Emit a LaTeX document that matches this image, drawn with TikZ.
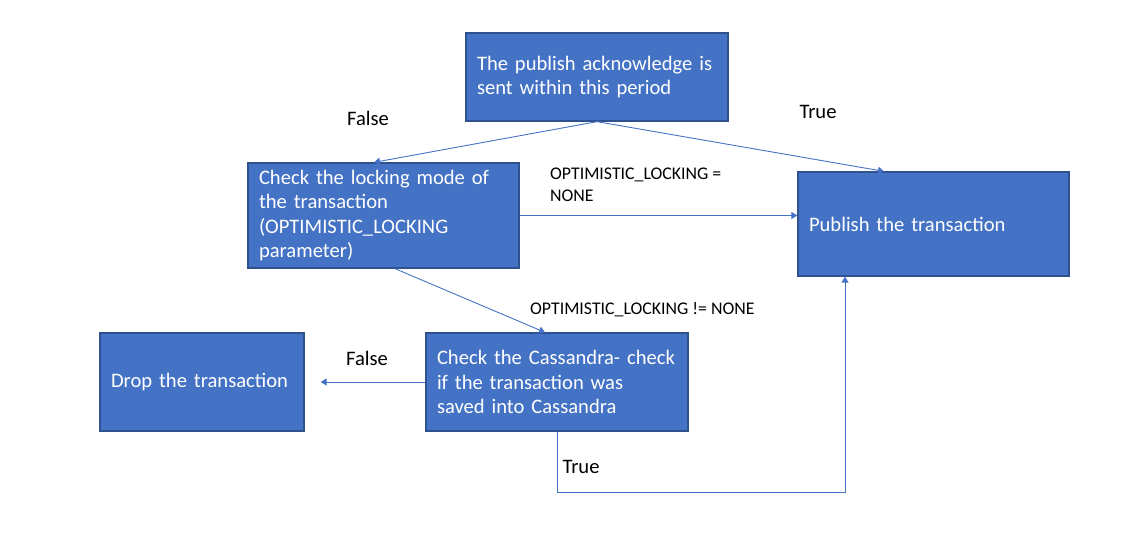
\documentclass[tikz,border=0pt]{standalone}
\usepackage{fontspec}
\setmainfont{Carlito}
\usetikzlibrary{positioning,calc,arrows.meta}

\definecolor{boxblue}{HTML}{4472C4}
\definecolor{boxedge}{HTML}{2F528F}

\begin{document}
\begin{tikzpicture}[x=1pt,y=-1pt]

	\tikzset{stepbox/.style={draw=boxedge,line width=1.3pt,fill=boxblue,text=white,
			align=left,inner xsep=11pt,inner ysep=0pt,
			font=\fontsize{20.6}{24.6}\selectfont}}
	\tikzset{flow/.style={draw=boxblue,line width=0.9pt,-{Triangle[width=7pt,length=6pt]}}}
	\tikzset{branchlabel/.style={font=\fontsize{20.6}{24}\selectfont,inner sep=0pt}}
	\tikzset{condlabel/.style={font=\fontsize{17.8}{22}\selectfont,inner sep=0pt,align=left,anchor=west}}

	\useasboundingbox (0,0) rectangle (1134,544);

	% boxes
	\node[stepbox,text width=240pt,minimum height=88pt] (ackbox) at (597,77)
	{The publish acknowledge is\\sent within this period};
	\node[stepbox,text width=249pt,minimum height=105pt] (lockbox) at (383.5,215.5)
	{Check the locking mode of\\the transaction\\(OPTIMISTIC\_LOCKING\\parameter)};
	\node[stepbox,text width=249pt,minimum height=104pt] (publishbox) at (933.5,224)
	{Publish the transaction};
	\node[stepbox,text width=240pt,minimum height=98pt] (cassbox) at (557,382)
	{Check the Cassandra- check\\if the transaction was\\saved into Cassandra};
	\node[stepbox,text width=182pt,minimum height=98pt] (dropbox) at (202,382)
	{Drop the transaction};

	% end points
	\coordinate (lockin) at ($(lockbox.north)+(-9.5,0)$);
	\coordinate (pubtop) at ($(publishbox.north)+(-49.5,0)$);
	\coordinate (lockout) at ($(lockbox.south)+(11.5,0)$);
	\coordinate (cassin) at ($(cassbox.north)+(-12,0)$);
	\coordinate (dropend) at ($(dropbox.east)+(16,0)$);
	\coordinate (cassturn) at ($(cassbox.south)+(0,61)$);
	\coordinate (pubbottom) at ($(publishbox.south)+(-88.5,0)$);

	% connectors
	\draw[flow] (ackbox.south) -- (lockin);
	\draw[flow] (ackbox.south) -- (pubtop);
	\draw[flow] (lockbox.east) -- (lockbox.east -| publishbox.west);
	\draw[flow] (lockout) -- (cassin);
	\draw[flow] (cassbox.west) -- (dropend);
	\draw[flow] (cassbox.south) -- (cassturn) -| (pubbottom);

	% labels
	\node[branchlabel] (ackfalse) at (368,118) {False};
	\node[branchlabel] (acktrue) at (818,112) {True};
	\node[condlabel] (nonelabel) at (550,185) {OPTIMISTIC\_LOCKING =\\NONE};
	\node[condlabel] (notnonelabel) at (530,310) {OPTIMISTIC\_LOCKING != NONE};
	\node[branchlabel] (cassfalse) at (367,358) {False};
	\node[branchlabel] (casstrue) at (581,467) {True};

\end{tikzpicture}
\end{document}
